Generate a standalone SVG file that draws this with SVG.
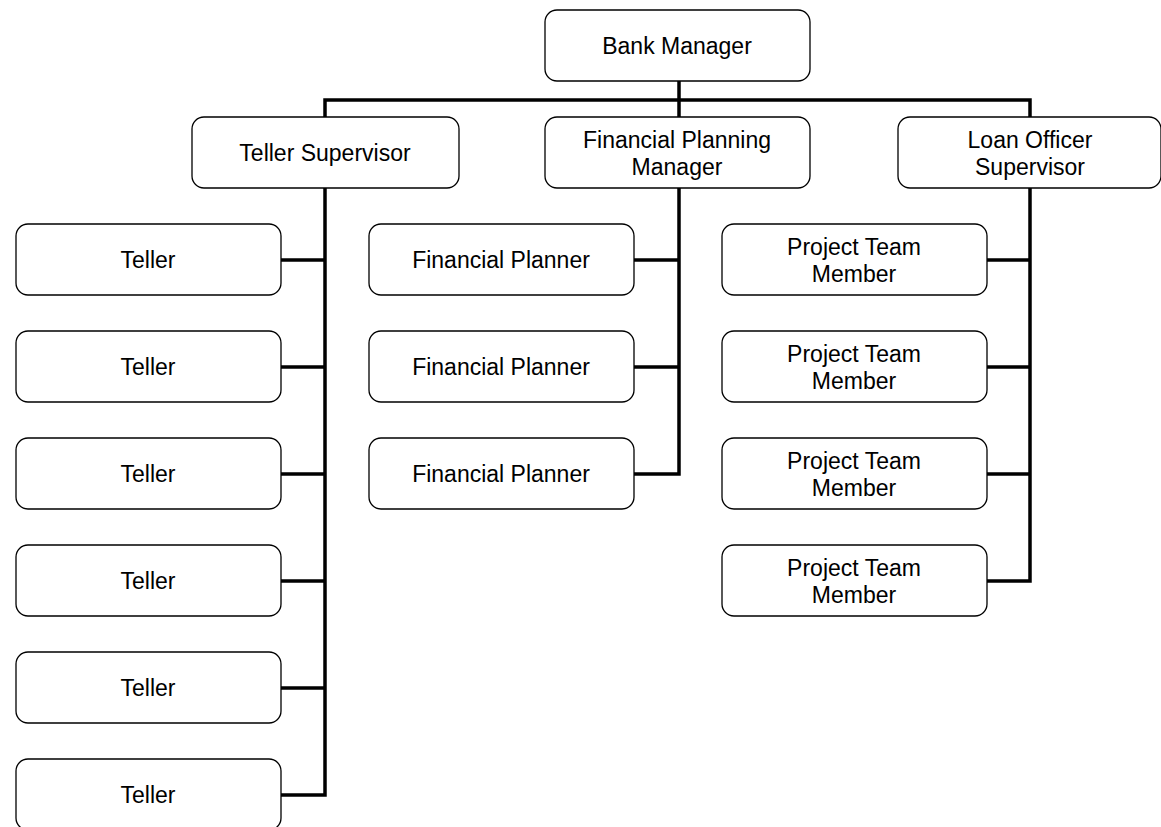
<svg xmlns="http://www.w3.org/2000/svg" width="1161" height="827" viewBox="0 0 1161 827">
  <style>
    .box { fill: #ffffff; stroke: #000000; stroke-width: 1.3; }
    .lbl { font-family: "Liberation Sans", Arial, sans-serif; font-size: 23px; fill: #000000; text-anchor: middle; }
    .wire { fill: none; stroke: #000000; stroke-width: 3.5; stroke-linejoin: miter; }
  </style>
  <rect width="1161" height="827" fill="#ffffff"/>

  <!-- connectors -->
  <g id="connectors">
    <path class="wire" d="M679,81 V117"/>
    <path class="wire" d="M325,117 V100 H1030 V117"/>
    <path class="wire" d="M325,188 V795 H281"/>
    <path class="wire" d="M325,260 H281 M325,367 H281 M325,474 H281 M325,581 H281 M325,688 H281"/>
    <path class="wire" d="M679,188 V474 H634"/>
    <path class="wire" d="M679,260 H634 M679,367 H634"/>
    <path class="wire" d="M1030,188 V581 H987"/>
    <path class="wire" d="M1030,260 H987 M1030,367 H987 M1030,474 H987"/>
  </g>

  <!-- top level -->
  <g id="bank-manager">
    <rect class="box" x="545" y="10" width="265" height="71" rx="12"/>
    <text class="lbl" x="677" y="54">Bank Manager</text>
  </g>

  <!-- second level -->
  <g id="teller-supervisor">
    <rect class="box" x="192" y="117" width="267" height="71" rx="12"/>
    <text class="lbl" x="325" y="161">Teller Supervisor</text>
  </g>
  <g id="financial-planning-manager">
    <rect class="box" x="545" y="117" width="265" height="71" rx="12"/>
    <text class="lbl" x="677" y="148">Financial Planning</text>
    <text class="lbl" x="677" y="175">Manager</text>
  </g>
  <g id="loan-officer-supervisor">
    <rect class="box" x="898" y="117" width="263" height="71" rx="12"/>
    <text class="lbl" x="1030" y="148">Loan Officer</text>
    <text class="lbl" x="1030" y="175">Supervisor</text>
  </g>

  <!-- tellers -->
  <g id="teller-1">
    <rect class="box" x="16" y="224" width="265" height="71" rx="12"/>
    <text class="lbl" x="148" y="268">Teller</text>
  </g>
  <g id="teller-2">
    <rect class="box" x="16" y="331" width="265" height="71" rx="12"/>
    <text class="lbl" x="148" y="375">Teller</text>
  </g>
  <g id="teller-3">
    <rect class="box" x="16" y="438" width="265" height="71" rx="12"/>
    <text class="lbl" x="148" y="482">Teller</text>
  </g>
  <g id="teller-4">
    <rect class="box" x="16" y="545" width="265" height="71" rx="12"/>
    <text class="lbl" x="148" y="589">Teller</text>
  </g>
  <g id="teller-5">
    <rect class="box" x="16" y="652" width="265" height="71" rx="12"/>
    <text class="lbl" x="148" y="696">Teller</text>
  </g>
  <g id="teller-6">
    <rect class="box" x="16" y="759" width="265" height="71" rx="12"/>
    <text class="lbl" x="148" y="803">Teller</text>
  </g>

  <!-- financial planners -->
  <g id="financial-planner-1">
    <rect class="box" x="369" y="224" width="265" height="71" rx="12"/>
    <text class="lbl" x="501" y="268">Financial Planner</text>
  </g>
  <g id="financial-planner-2">
    <rect class="box" x="369" y="331" width="265" height="71" rx="12"/>
    <text class="lbl" x="501" y="375">Financial Planner</text>
  </g>
  <g id="financial-planner-3">
    <rect class="box" x="369" y="438" width="265" height="71" rx="12"/>
    <text class="lbl" x="501" y="482">Financial Planner</text>
  </g>

  <!-- project team members -->
  <g id="project-team-member-1">
    <rect class="box" x="722" y="224" width="265" height="71" rx="12"/>
    <text class="lbl" x="854" y="255">Project Team</text>
    <text class="lbl" x="854" y="282">Member</text>
  </g>
  <g id="project-team-member-2">
    <rect class="box" x="722" y="331" width="265" height="71" rx="12"/>
    <text class="lbl" x="854" y="362">Project Team</text>
    <text class="lbl" x="854" y="389">Member</text>
  </g>
  <g id="project-team-member-3">
    <rect class="box" x="722" y="438" width="265" height="71" rx="12"/>
    <text class="lbl" x="854" y="469">Project Team</text>
    <text class="lbl" x="854" y="496">Member</text>
  </g>
  <g id="project-team-member-4">
    <rect class="box" x="722" y="545" width="265" height="71" rx="12"/>
    <text class="lbl" x="854" y="576">Project Team</text>
    <text class="lbl" x="854" y="603">Member</text>
  </g>
</svg>
